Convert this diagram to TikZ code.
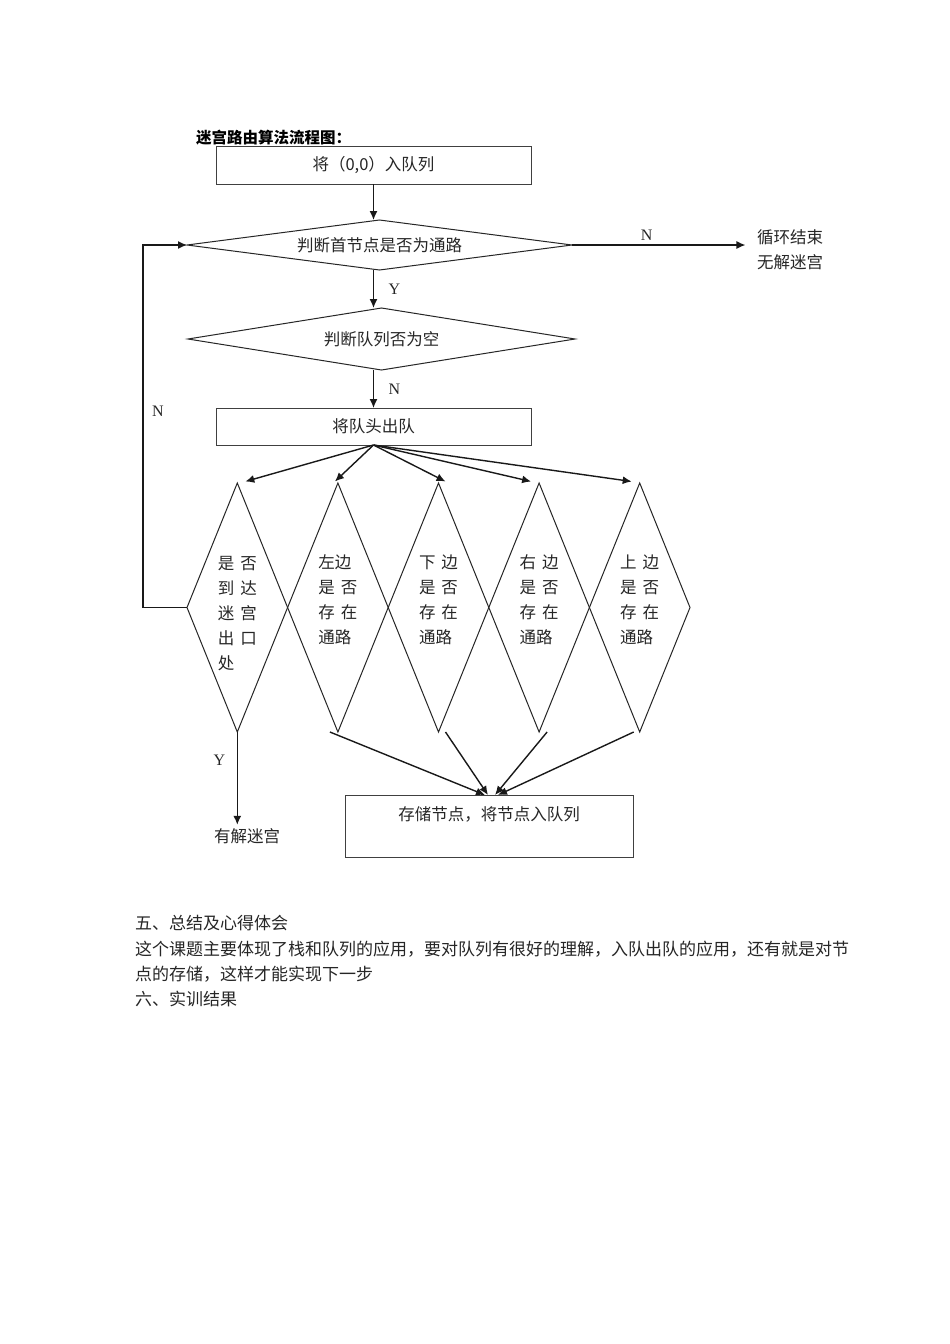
\documentclass[tikz,border=0pt]{standalone}
\usepackage{fontspec}
\setmainfont{Liberation Serif}
\newfontfamily\cjk{Noto Sans CJK SC}
\usepackage{tikz}
\usetikzlibrary{arrows.meta, positioning, shapes.geometric}

\newcommand{\flowfont}{\cjk\fontsize{16.5}{25}\selectfont}
\newcommand{\gp}{\hspace{6pt}}

\begin{document}
\begin{tikzpicture}[
    x=1pt, y=1pt,
    procbox/.style={
        rectangle,
        draw=black!75,
        line width=1pt,
        align=center,
        minimum width=315pt,
        minimum height=38pt,
        inner sep=0pt,
        outer sep=0pt,
        text=black!85,
        font=\flowfont
    },
    decision/.style={
        diamond,
        draw=black!85,
        line width=1pt,
        inner sep=0pt,
        outer sep=0pt,
        text=black!85,
        font=\flowfont
    },
    check/.style={
        decision,
        aspect=0.4,
        align=left,
        minimum width=100.6pt,
        minimum height=249pt
    },
    para/.style={anchor=west, inner sep=0pt, text=black!85, font=\cjk\fontsize{17}{17}\selectfont},
    yn/.style={text=black!85, font=\rmfamily\fontsize{16}{16}\selectfont},
    arrow/.style={-{Latex[length=9pt,width=8pt]}, line width=1.4pt, black!90}
]
\useasboundingbox[fill=white] (0,0) rectangle (950,-1344);

\node[anchor=west, inner sep=0pt, font=\cjk\bfseries\fontsize{15.5}{15.5}\selectfont] (title) at (196,-138) {迷宫路由算法流程图：};

\node[procbox] (start) at (373.5,-165) {将（0,0）入队列};
\node[decision, aspect=7.7, minimum width=385pt, minimum height=50pt] (judge) at (379.5,-245) {判断首节点是否为通路};
\node[decision, aspect=6.24, minimum width=387pt, minimum height=62pt] (empty) at (381.5,-339) {判断队列否为空};
\node[procbox, minimum height=37pt] (dequeue) at (373.5,-426.5) {将队头出队};

\node[align=center, text=black!85, font=\flowfont] (nosol) at (790,-250) {循环结束\\无解迷宫};

% the five checks, side by side
\node[check] (c1) at (237.3,-607.5) {\rule{0pt}{26pt}是\gp 否\\到\gp 达\\迷\gp 宫\\出\gp 口\\处};
\node[check, right=0pt of c1] (c2) {左边\\是\gp 否\\存\gp 在\\通路\\[-9pt]\mbox{}};
\node[check, right=0pt of c2] (c3) {下\gp 边\\是\gp 否\\存\gp 在\\通路\\[-9pt]\mbox{}};
\node[check, right=0pt of c3] (c4) {右\gp 边\\是\gp 否\\存\gp 在\\通路\\[-9pt]\mbox{}};
\node[check, right=0pt of c4] (c5) {上\gp 边\\是\gp 否\\存\gp 在\\通路\\[-9pt]\mbox{}};

\node[procbox, minimum width=288pt, minimum height=62pt] (store) at (489,-826) {存储节点，将节点入队列\\\mbox{}};
\node[text=black!85, font=\flowfont] (found) at (247,-836) {有解迷宫};

\draw[arrow] (start.south) -- (start.south |- judge.north);
\draw[arrow] (start.south |- judge.south) -- node[right, xshift=11pt, yn] {Y} (start.south |- empty.north);
\draw[arrow] (start.south |- empty.south) -- node[right, xshift=11pt, yn] {N} (dequeue.north);
\draw[arrow] (judge.east) -- node[pos=.43, above, yn] {N} ([xshift=-8pt]judge.east -| nosol.west);

\foreach \d/\s in {c1/8,c2/-3,c3/7,c4/-8,c5/-8}
    \draw[arrow] (dequeue.south) -- ([xshift=\s pt, yshift=1.5pt]\d.north);

\foreach \d/\s/\e in {c2/-8/-4,c3/7/-1,c4/8/6,c5/-6/9}
    \draw[arrow] ([xshift=\s pt]\d.south) -- ([xshift=\e pt]store.north);

\draw[arrow] (c1.west) -- ++(-44,0) |- node[pos=.27, right, xshift=5pt, yn] {N} (judge.west);
\draw[arrow] (c1.south) -- node[pos=.3, left, xshift=-8pt, yn] {Y} (c1.south |- found.north);

\node[para] (sum) at (135,-923) {五、总结及心得体会};
\node[para] (body1) at (135,-949) {这个课题主要体现了栈和队列的应用，要对队列有很好的理解，入队出队的应用，还有就是对节};
\node[para] (body2) at (135,-974) {点的存储，这样才能实现下一步};
\node[para] (result) at (135,-999) {六、实训结果};

\end{tikzpicture}
\end{document}
